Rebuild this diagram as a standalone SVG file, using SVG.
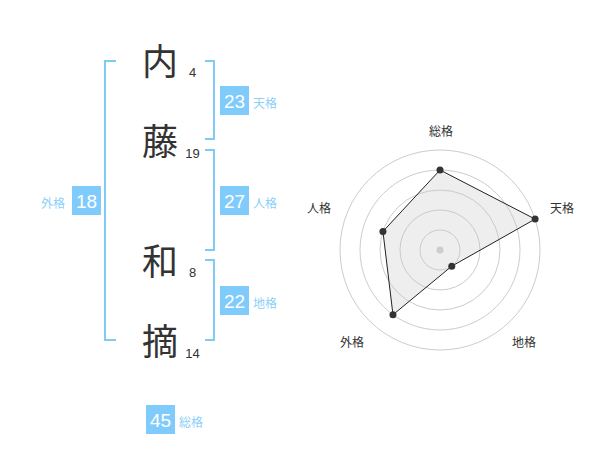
<svg xmlns="http://www.w3.org/2000/svg" width="600" height="470" viewBox="0 0 600 470">
<style>
.kanji{font-family:"Noto Sans CJK JP","Noto Sans CJK SC",sans-serif;font-size:36px;fill:#333;text-anchor:middle}
.stroke{font-family:"Liberation Sans",Arial,sans-serif;font-size:13px;fill:#333;text-anchor:middle}
.br{fill:none;stroke:#7fcaf8;stroke-width:2}
.box{fill:#7fcbfb}
.num{font-family:"Liberation Sans",Arial,sans-serif;font-size:19px;fill:#fff;text-anchor:middle}
.lbl{font-family:"Noto Sans CJK JP","Noto Sans CJK SC",sans-serif;font-size:12px;fill:#8ccffa}
.ring{fill:none;stroke:#ccc;stroke-width:1}
.axl{font-family:"Noto Sans CJK JP","Noto Sans CJK SC",sans-serif;font-size:12px;fill:#333;text-anchor:middle}
.pt{fill:#333}
</style>
<rect width="600" height="470" fill="#fff"/>
<g id="name">
<g id="c1"><text class="kanji" x="160" y="75">内</text><text class="stroke" x="192.5" y="77">4</text></g>
<g id="c2"><text class="kanji" x="160" y="155">藤</text><text class="stroke" x="192.5" y="158">19</text></g>
<g id="c3"><text class="kanji" x="160" y="275">和</text><text class="stroke" x="192.5" y="277">8</text></g>
<g id="c4"><text class="kanji" x="160" y="355">摘</text><text class="stroke" x="192.5" y="358">14</text></g>
</g>
<g id="connectors">
<path class="br" d="M116,61 H105 V340 H116"/>
<path class="br" d="M205,61 H214 V139 H205"/>
<path class="br" d="M205,150 H214 V250 H205"/>
<path class="br" d="M205,260 H214 V340 H205"/>
</g>
<g id="tenkaku"><rect class="box" x="220" y="86" width="29" height="29"/><text class="num" x="234.5" y="107.5">23</text><text class="lbl" x="253" y="108">天格</text></g>
<g id="jinkaku"><rect class="box" x="220" y="186" width="29" height="29"/><text class="num" x="234.5" y="207.5">27</text><text class="lbl" x="253" y="208">人格</text></g>
<g id="chikaku"><rect class="box" x="220" y="286" width="29" height="29"/><text class="num" x="234.5" y="307.5">22</text><text class="lbl" x="253" y="308">地格</text></g>
<g id="gaikaku"><rect class="box" x="72" y="186" width="29" height="29"/><text class="num" x="86.5" y="207.5">18</text><text class="lbl" x="41" y="208">外格</text></g>
<g id="soukaku"><rect class="box" x="146" y="405" width="29" height="29"/><text class="num" x="160.5" y="426.5">45</text><text class="lbl" x="179" y="427">総格</text></g>
<g id="radar">
<circle class="ring" cx="440" cy="250" r="20"/>
<circle class="ring" cx="440" cy="250" r="40"/>
<circle class="ring" cx="440" cy="250" r="60"/>
<circle class="ring" cx="440" cy="250" r="80"/>
<circle class="ring" cx="440" cy="250" r="100"/>
<polygon points="440,170 535.1,219.1 451.76,266.18 392.98,314.72 382.94,231.46" fill="rgba(200,200,200,0.3)" stroke="#222" stroke-width="1"/>
<circle cx="440" cy="250" r="3.5" fill="#ccc"/>
<circle class="pt" cx="440" cy="170" r="3.5"/>
<circle class="pt" cx="535.1" cy="219.1" r="3.5"/>
<circle class="pt" cx="451.76" cy="266.18" r="3.5"/>
<circle class="pt" cx="392.98" cy="314.72" r="3.5"/>
<circle class="pt" cx="382.94" cy="231.46" r="3.5"/>
<text class="axl" x="441" y="136">総格</text>
<text class="axl" x="562" y="213">天格</text>
<text class="axl" x="524" y="347">地格</text>
<text class="axl" x="352" y="347">外格</text>
<text class="axl" x="319" y="213">人格</text>
</g>
</svg>
